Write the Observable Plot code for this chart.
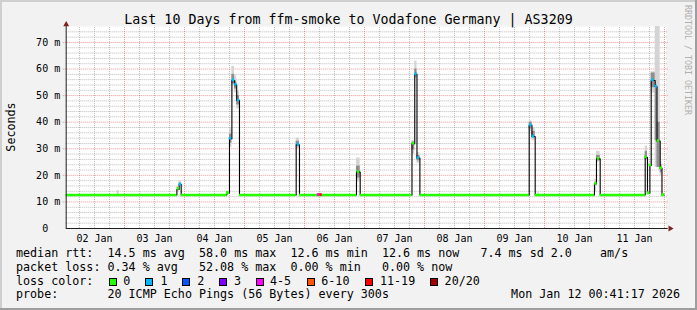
<!DOCTYPE html>
<html>
<head>
<meta charset="utf-8">
<script src="https://cdn.jsdelivr.net/npm/d3@7"></script>
<script src="https://cdn.jsdelivr.net/npm/@observablehq/plot@0.6"></script>
<style>
html,body{margin:0;padding:0;background:#f2f2f2;}
#wrap{position:relative;width:697px;height:310px;overflow:hidden;background:#f2f2f2;font-family:"DejaVu Sans Mono",monospace;color:#000;}
#wrap svg{position:absolute;left:0;top:0;}
.t{position:absolute;white-space:pre;line-height:1;}
.box{position:absolute;width:6px;height:6px;border:1px solid #000;}
.edge{position:absolute;}
</style>
</head>
<body>
<div id="wrap"></div>
<script>
// ---------- text ----------
const title = "Last 10 Days from ffm-smoke to Vodafone Germany | AS3209";
const yLabel = "Seconds";
const watermark = "RRDTOOL / TOBI OETIKER";
const statsLines = [
  "median rtt:  14.5 ms avg  58.0 ms max  12.6 ms min  12.6 ms now   7.4 ms sd 2.0    am/s",
  "packet loss: 0.34 % avg   52.08 % max  0.00 % min   0.00 % now",
  "loss color:",
  "probe:       20 ICMP Echo Pings (56 Bytes) every 300s"
];
const dateStamp = "Mon Jan 12 00:41:17 2026";

// ---------- axes ----------
const startTime = "2026-01-02T00:41:17";
const endTime = "2026-01-12T00:41:17";
const dayTicks = ["2026-01-02T12:00","2026-01-03T12:00","2026-01-04T12:00","2026-01-05T12:00","2026-01-06T12:00",
                  "2026-01-07T12:00","2026-01-08T12:00","2026-01-09T12:00","2026-01-10T12:00","2026-01-11T12:00"];
const yTicks = [0,10,20,30,40,50,60,70];

// ---------- median RTT (ms), step series ----------
const rttTimes = [
  "2026-01-02T00:41","2026-01-03T20:58","2026-01-03T21:53","2026-01-03T22:41",
  "2026-01-04T16:58","2026-01-04T18:00","2026-01-04T18:58","2026-01-04T20:00","2026-01-04T20:53","2026-01-04T22:00",
  "2026-01-05T20:41","2026-01-05T22:00",
  "2026-01-06T20:48","2026-01-06T22:17",
  "2026-01-07T19:00","2026-01-07T20:07","2026-01-07T21:00","2026-01-07T22:10",
  "2026-01-09T17:53","2026-01-09T19:00","2026-01-09T20:17",
  "2026-01-10T20:00","2026-01-10T20:48","2026-01-10T22:17",
  "2026-01-11T16:17","2026-01-11T17:12","2026-01-11T18:10","2026-01-11T18:41","2026-01-11T20:17",
  "2026-01-11T21:00","2026-01-11T22:17","2026-01-11T23:00","2026-01-11T23:50"
];
const rttValues = [
  12.6,14.7,16.6,12.6,
  13.4,33.8,55.7,54.1,48.2,12.6,
  31.5,12.6,
  21.2,12.6,
  31.9,58.0,26.5,12.6,
  38.8,34.6,12.6,
  16.8,26.2,12.6,
  26.8,13.3,23.7,55.7,53.4,
  32.9,22.7,12.6,12.6
];

// ---------- loss colour markers: [time, median, loss class] ----------
const lossMarks = [
  ["2026-01-03T21:36",14.9,0],["2026-01-03T22:24",16.5,1],
  ["2026-01-04T17:17",13.4,0],["2026-01-04T18:24",33.8,1],["2026-01-04T19:36",55.7,1],
  ["2026-01-04T20:34",54.1,1],["2026-01-04T21:36",48.2,1],
  ["2026-01-05T21:36",31.5,1],
  ["2026-01-06T05:36",12.6,4],["2026-01-06T06:36",12.6,6],["2026-01-06T21:36",21.2,0],
  ["2026-01-07T19:36",31.9,0],["2026-01-07T20:34",58.0,1],["2026-01-07T21:36",26.5,1],
  ["2026-01-09T18:34",38.8,1],["2026-01-09T19:36",34.6,1],
  ["2026-01-10T20:34",16.8,0],["2026-01-10T21:36",26.2,0],
  ["2026-01-11T16:34",26.8,0],["2026-01-11T17:36",13.3,0],["2026-01-11T18:17",23.7,0],
  ["2026-01-11T19:22",55.7,1],["2026-01-11T20:41",53.4,1],["2026-01-11T21:36",32.9,0],
  ["2026-01-11T22:41",22.7,0],["2026-01-11T23:36",12.6,0]
];
const lossColors = ["#26ff00","#00b8ff","#0059ff","#7e00ff","#ff00ff","#ff5500","#ff0000","#a10000"];
const lossLabels = ["0","1","2","3","4-5","6-10","11-19","20/20"];

// ---------- smoke (ping spread): [from, to, low, high] ----------
const smokeLight = [
  ["2026-01-02T21:05","2026-01-02T21:53",12.6,14.3],
  ["2026-01-03T20:58","2026-01-03T21:53",14.0,15.8],
  ["2026-01-03T21:53","2026-01-03T22:41",15.8,18.0],
  ["2026-01-04T18:00","2026-01-04T18:58",30.5,37.5],
  ["2026-01-04T18:58","2026-01-04T20:00",54.0,61.0],
  ["2026-01-04T20:00","2026-01-04T20:53",51.0,57.5],
  ["2026-01-04T20:53","2026-01-04T22:00",45.0,51.5],
  ["2026-01-05T20:41","2026-01-05T22:00",30.0,34.0],
  ["2026-01-06T20:48","2026-01-06T22:17",17.5,26.5],
  ["2026-01-07T19:00","2026-01-07T20:07",28.0,33.0],
  ["2026-01-07T20:07","2026-01-07T21:00",56.5,63.0],
  ["2026-01-07T21:00","2026-01-07T22:10",24.5,28.5],
  ["2026-01-09T17:53","2026-01-09T19:00",36.5,40.5],
  ["2026-01-09T19:00","2026-01-09T20:17",33.0,38.0],
  ["2026-01-09T21:22","2026-01-09T21:53",12.6,13.8],
  ["2026-01-10T20:00","2026-01-10T20:48",14.0,18.5],
  ["2026-01-10T20:48","2026-01-10T22:17",25.0,29.0],
  ["2026-01-11T16:17","2026-01-11T17:12",25.5,31.0],
  ["2026-01-11T18:10","2026-01-11T18:41",21.0,25.5],
  ["2026-01-11T18:41","2026-01-11T20:17",51.0,59.0],
  ["2026-01-11T20:17","2026-01-11T22:17",23.0,76.0],
  ["2026-01-11T22:17","2026-01-11T23:00",20.0,25.0]
];
const smokeDark = [
  ["2026-01-03T21:53","2026-01-03T22:41",16.2,17.2],
  ["2026-01-04T18:00","2026-01-04T18:58",32.0,35.5],
  ["2026-01-04T18:58","2026-01-04T20:00",54.5,58.0],
  ["2026-01-04T20:00","2026-01-04T20:53",52.5,55.5],
  ["2026-01-04T20:53","2026-01-04T22:00",46.5,50.0],
  ["2026-01-05T20:41","2026-01-05T22:00",30.8,32.8],
  ["2026-01-06T20:48","2026-01-06T22:17",19.0,23.5],
  ["2026-01-07T19:00","2026-01-07T20:07",29.5,32.5],
  ["2026-01-07T20:07","2026-01-07T21:00",57.0,60.0],
  ["2026-01-07T21:00","2026-01-07T22:10",25.5,27.5],
  ["2026-01-09T17:53","2026-01-09T19:00",37.5,40.0],
  ["2026-01-09T19:00","2026-01-09T20:17",34.0,36.5],
  ["2026-01-10T20:48","2026-01-10T22:17",25.5,27.5],
  ["2026-01-11T16:17","2026-01-11T17:12",26.0,29.0],
  ["2026-01-11T18:41","2026-01-11T20:17",53.0,58.5],
  ["2026-01-11T20:17","2026-01-11T21:00",33.0,54.0],
  ["2026-01-11T21:00","2026-01-11T22:17",23.0,40.0],
  ["2026-01-11T22:17","2026-01-11T23:00",21.0,24.0]
];

// ---------- build ----------
const T = s => new Date(s);
const MIN = 60e3;
const x0 = T(startTime), x1 = T(endTime);
const leftExt = new Date(+x0 - 72 * MIN), rightExt = new Date(+x1 + 48 * MIN);
const rtt = rttTimes.map((t, i) => ({t: T(t), v: rttValues[i]}));
const green = rtt.slice(0, -1).map((d, i) => ({t1: d.t, t2: rtt[i + 1].t, v: d.v})).filter(d => d.v < 14);
const majorX = d3.timeDay.range(x0, x1);
const minorX = d3.timeHour.every(6).range(x0, x1).filter(d => d.getHours() !== 0);
const majorY = yTicks.filter(v => v > 0);
const minorY = d3.range(2, 76, 2).filter(v => v % 10 !== 0);
const gridC = "rgba(143,143,143,0.6)", mgridC = "rgba(222,79,79,0.6)";
const smokeOpts = c => ({x1: d => T(d[0]), x2: d => T(d[1]), y1: d => d[2], y2: d => d[3], fill: c});

const plot = Plot.plot({
  width: 697, height: 310,
  marginLeft: 65.7, marginRight: 697 - 665.7, marginTop: 26, marginBottom: 82,
  style: {background: "transparent", fontFamily: "'DejaVu Sans Mono', monospace", fontSize: "10px", color: "#000"},
  x: {type: "time", domain: [x0, x1], label: null},
  y: {domain: [0, 76], label: null},
  color: {type: "identity"},
  marks: [
    Plot.frame({fill: "#fff", stroke: "none"}),
    Plot.ruleX(minorX, {y1: 0, y2: 76, stroke: gridC, strokeDasharray: "1,1"}),
    Plot.ruleY(minorY, {x1: () => x0, x2: () => rightExt, stroke: gridC, strokeDasharray: "1,1"}),
    Plot.ruleX(majorX, {y1: 0, y2: 76, stroke: mgridC, strokeDasharray: "1,1"}),
    Plot.ruleY(majorY, {x1: () => leftExt, x2: () => rightExt, stroke: mgridC, strokeDasharray: "1,1"}),
    Plot.rect(smokeLight, smokeOpts("#d4d4d4")),
    Plot.rect(smokeDark, smokeOpts("#8e8e8e")),
    Plot.line(rtt, {x: "t", y: "v", curve: "step-after", stroke: "#000", strokeWidth: 1.1}),
    Plot.ruleY(green, {y: "v", x1: "t1", x2: "t2", stroke: lossColors[0], strokeWidth: 2.4}),
    Plot.rect(lossMarks, {
      x1: d => new Date(+T(d[0]) - 30 * MIN), x2: d => new Date(+T(d[0]) + 30 * MIN),
      y1: d => d[1] - 0.5, y2: d => d[1] + 0.5, fill: d => lossColors[d[2]]
    }),
    Plot.ruleX([x0], {y1: 0, y2: 76, stroke: "#1f1f1f"}),
    Plot.ruleY([0], {x1: () => x0, x2: () => rightExt, stroke: "#1f1f1f"}),
    Plot.dot([x0], {x: d => d, y: () => 76, symbol: "triangle", r: 2.2, fill: "#801f1f", stroke: "none", dy: -2}),
    Plot.dot([rightExt], {x: d => d, y: () => 0, symbol: "triangle", r: 2.2, rotate: 90, fill: "#801f1f", stroke: "none", dx: 2}),
    Plot.axisX({ticks: dayTicks.map(T), tickFormat: d3.timeFormat("%d %b"), tickSize: 0, tickPadding: 6, fontSize: 10, label: null}),
    Plot.axisY({ticks: yTicks, tickFormat: d => d ? d + " m" : "0\u00a0\u00a0", tickSize: 0, tickPadding: 6, fontSize: 10, label: null})
  ]
});

const wrap = document.getElementById("wrap");
wrap.appendChild(plot);

function addText(txt, css) {
  const d = document.createElement("div");
  d.className = "t";
  d.textContent = txt;
  Object.assign(d.style, css);
  wrap.appendChild(d);
  return d;
}
addText(title, {left: "0px", width: "697px", textAlign: "center", top: "12.7px", fontSize: "13.3px"});
addText(yLabel, {left: "11.5px", top: "126.5px", fontSize: "11.7px", transform: "translate(-50%,-50%) rotate(-90deg)"});
addText(watermark, {left: "688px", top: "60px", fontSize: "8.3px", color: "#b0b0b0", transform: "translate(-50%,-50%) rotate(90deg)"});

const lineTops = [248.4, 261.9, 275.5, 289.1];
statsLines.forEach((s, i) => addText(s, {left: "16px", top: lineTops[i] + "px", fontSize: "11.7px"}));
addText(dateStamp, {right: "17px", top: lineTops[3] + "px", fontSize: "11.7px"});

const boxX = [108.5, 145.2, 182.2, 218.8, 255.5, 306.8, 364.8, 430.2];
const labX = [123.3, 160.6, 197.3, 234, 270, 321.3, 380, 444.6];
lossLabels.forEach((lab, i) => {
  const b = document.createElement("div");
  b.className = "box";
  Object.assign(b.style, {left: boxX[i] + "px", top: "278px", background: lossColors[i]});
  wrap.appendChild(b);
  addText(lab, {left: labX[i] + "px", top: lineTops[2] + "px", fontSize: "11.7px"});
});

[["0px","0px","697px","2px","#cfcfcf"],["0px","0px","2px","310px","#cfcfcf"],
 ["695px","0px","2px","310px","#9e9e9e"],["0px","308px","697px","2px","#9e9e9e"]].forEach(([l,t,w,h,c]) => {
  const e = document.createElement("div");
  e.className = "edge";
  Object.assign(e.style, {left: l, top: t, width: w, height: h, background: c});
  wrap.appendChild(e);
});
</script>
</body>
</html>
